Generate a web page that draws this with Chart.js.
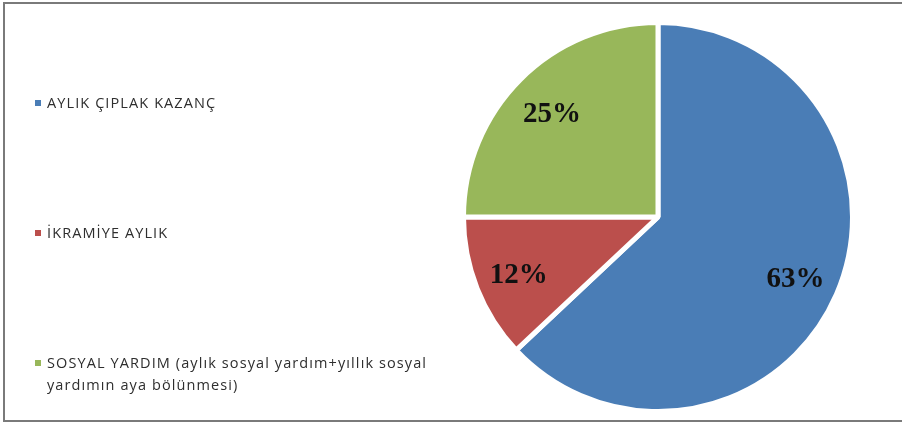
<!DOCTYPE html>
<html>
<head>
<meta charset="utf-8">
<script src="https://cdn.jsdelivr.net/npm/chart.js@4.4.1/dist/chart.umd.min.js"></script>
<style>
  html, body { margin: 0; padding: 0; background: #fff; }
  #wrap { position: relative; width: 902px; height: 424px; overflow: hidden; }
  #frame { position: absolute; left: 3px; top: 2px; width: 910px; height: 416px; border: 2px solid #7a7a7a; box-sizing: content-box; }
  #c { position: absolute; left: 0; top: 0; }
  .lg { position: absolute; left: 34px; font-family: "Open Sans", sans-serif; font-size: 14.5px; letter-spacing: 1.1px; color: #2e2e2e; line-height: 22px; width: 440px; }
  .lg .sw { position: absolute; left: 1px; top: 8px; width: 6px; height: 6px; }
  .lg .tx { display: block; margin-left: 13px; width: 405px; }
</style>
</head>
<body>
<div id="wrap">
  <div id="frame"></div>
  <canvas id="c" width="902" height="424"></canvas>
  <div id="legend"></div>
</div>
<script>
const categories = [
  "AYLIK ÇIPLAK KAZANÇ",
  "İKRAMİYE AYLIK",
  "SOSYAL YARDIM (aylık sosyal yardım+yıllık sosyal yardımın aya bölünmesi)"
];
const shares = [63, 12, 25];
const colors = ["#4A7DB6", "#BB4F4C", "#98B75A"];

// HTML legend built from the data arrays
const legendEl = document.getElementById('legend');
categories.forEach((name, i) => {
  const d = document.createElement('div');
  d.className = 'lg';
  d.style.top = (92 + i * 130) + 'px';
  const sw = document.createElement('span');
  sw.className = 'sw';
  sw.style.background = colors[i];
  const tx = document.createElement('span');
  tx.className = 'tx';
  tx.textContent = name;
  d.appendChild(sw); d.appendChild(tx);
  legendEl.appendChild(d);
});

const pctLabels = {
  id: 'pctLabels',
  afterDatasetsDraw(chart) {
    const ctx = chart.ctx;
    const ds = chart.data.datasets[0];
    const total = ds.data.reduce((a, b) => a + b, 0);
    const meta = chart.getDatasetMeta(0);
    ctx.save();
    ctx.font = 'bold 29px "Liberation Serif", "Times New Roman", serif';
    ctx.fillStyle = '#111';
    ctx.textAlign = 'center';
    ctx.textBaseline = 'middle';
    meta.data.forEach((arc, i) => {
      const p = arc.getProps(['x', 'y', 'startAngle', 'endAngle', 'outerRadius'], true);
      const mid = (p.startAngle + p.endAngle) / 2;
      const r = p.outerRadius * 0.77;
      const x = p.x + Math.cos(mid) * r;
      const y = p.y + Math.sin(mid) * r + 3;
      ctx.fillText(Math.round(ds.data[i] / total * 100) + '%', x, y);
    });
    ctx.restore();
  }
};

new Chart(document.getElementById('c'), {
  type: 'pie',
  data: {
    labels: categories,
    datasets: [{
      data: shares,
      backgroundColor: colors,
      borderColor: '#ffffff',
      borderWidth: 5
    }]
  },
  options: {
    responsive: false,
    animation: false,
    layout: { padding: { left: 461, right: 47, top: 20, bottom: 10 } },
    plugins: {
      legend: { display: false },
      tooltip: { enabled: false }
    }
  },
  plugins: [pctLabels]
});
</script>
</body>
</html>
